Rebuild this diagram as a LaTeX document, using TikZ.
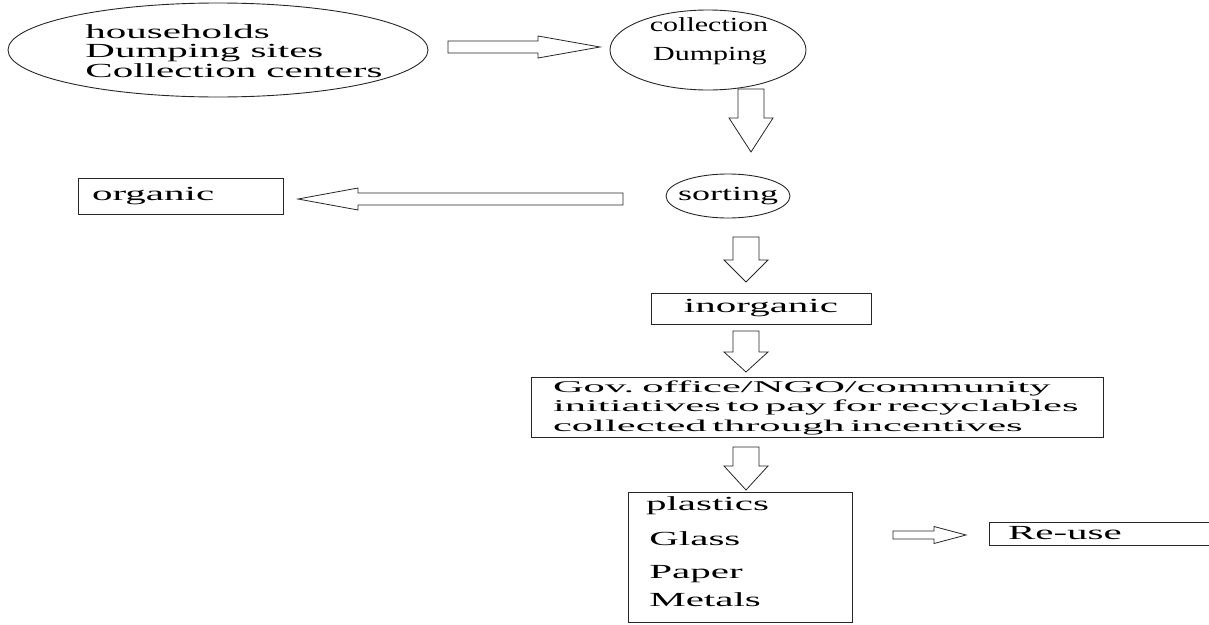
\documentclass[tikz,border=0pt]{standalone}
\usepackage{fontspec}
\setmainfont{Liberation Serif}
\newfontfamily\fwa[FakeStretch=2.05]{Liberation Serif}
\newfontfamily\fwb[FakeStretch=2.58]{Liberation Serif}
\newfontfamily\fwc[FakeStretch=1.5]{Liberation Serif}
\newfontfamily\fwd[FakeStretch=1.8]{Liberation Serif}
\usetikzlibrary{shapes.geometric,calc}
\newcommand\bkarrow[5]{%
  \path (#1) coordinate (ba1) (#2) coordinate (ba2);
  \path ($(ba2)!#5!(ba1)$) coordinate (bah);
  \draw[arrowbody] ($(ba1)!#3!90:(ba2)$) -- ($(bah)!#3!-90:(ba1)$) -- ($(bah)!#4!-90:(ba1)$) -- (ba2)
     -- ($(bah)!#4!90:(ba1)$) -- ($(bah)!#3!90:(ba1)$) -- ($(ba1)!#3!-90:(ba2)$) -- cycle;
}
\tikzset{
  shapeline/.style={draw=black!85, line width=0.9pt},
  txta/.style={font=\fwa\fontsize{20}{19.5}\selectfont, inner sep=0pt},
  txtb/.style={font=\fwb\fontsize{16.5}{19.5}\selectfont},
  txtc/.style={font=\fwc\fontsize{20}{20}\selectfont, inner sep=0pt},
  txtd/.style={font=\fwd\fontsize{20}{20}\selectfont, inner sep=0pt},
  arrowbody/.style={draw=black!85, line width=0.8pt, fill=white, line join=miter},
  oval/.style={shapeline, ellipse, inner sep=0pt},
  box/.style={shapeline, rectangle, inner ysep=0pt},
}
\begin{document}
\begin{tikzpicture}[x=1pt,y=-1pt]
\useasboundingbox (0,0) rectangle (1209,624);
\clip (0,0) rectangle (1209,624);

\node[oval, minimum width=420pt, minimum height=94pt,
  label={[txta, align=left, xshift=16pt, yshift=-1pt]center:households\\Dumping sites\\Collection centers}] (src) at (218,50) {};
\node[oval, minimum width=196pt, minimum height=80pt,
  label={[txtc, align=left, xshift=1pt, yshift=9pt]center:collection\\[9pt]\,Dumping}] (col) at (708,50) {};
\node[oval, minimum width=124pt, minimum height=44pt,
  label={[txtd]center:sorting}] (sort) at (728,196) {};
\node[box, txta, minimum width=205pt, minimum height=36pt, text width=177pt, inner xsep=14pt, align=left] (org) at (180.5,196) {organic};
\node[box, txta, minimum width=220pt, minimum height=31pt, align=center] (inorg) at (761,308.5) {inorganic};
\node[box, txtb, minimum width=572pt, minimum height=60pt, text width=528pt, inner xsep=22pt, align=left, yshift=-2.5pt] (gov) at (817,405)
  {\mbox{Gov. office/NGO/community}\\\mbox{initiatives to pay for recyclables}\\\mbox{collected through incentives}};
\node[box, txta, minimum width=224pt, minimum height=130pt, text width=188pt, inner xsep=18pt, align=left] (mat) at (740,557)
  {plastics\\[15.5pt]\,Glass\\[13.5pt]\,Paper\\[8.5pt]\,Metals\rule[-10pt]{0pt}{0pt}};
\node[box, txta, minimum width=241pt, minimum height=23pt, text width=203pt, inner xsep=19pt, align=left] (reuse) at (1109.5,533.5) {Re-use};

\coordinate (a1s) at (448,47);   \coordinate (a1e) at (600,47);
\coordinate (a2s) at (751,89);   \coordinate (a2e) at (751,152);
\coordinate (a3s) at (623,199);  \coordinate (a3e) at (298,199);
\coordinate (a4s) at (746,237);  \coordinate (a4e) at (746,282);
\coordinate (a5s) at (746,331);  \coordinate (a5e) at (746,372);
\coordinate (a6s) at (746,447);  \coordinate (a6e) at (746,490);
\coordinate (a7s) at (893,535);  \coordinate (a7e) at (966,535);

\bkarrow{a1s}{a1e}{6pt}{11pt}{62pt}
\bkarrow{a2s}{a2e}{13pt}{22pt}{34pt}
\bkarrow{a3s}{a3e}{6pt}{11pt}{60pt}
\bkarrow{a4s}{a4e}{13pt}{22pt}{22pt}
\bkarrow{a5s}{a5e}{13pt}{22pt}{20pt}
\bkarrow{a6s}{a6e}{13pt}{22pt}{24pt}
\bkarrow{a7s}{a7e}{4pt}{8.5pt}{32pt}
\end{tikzpicture}
\end{document}
